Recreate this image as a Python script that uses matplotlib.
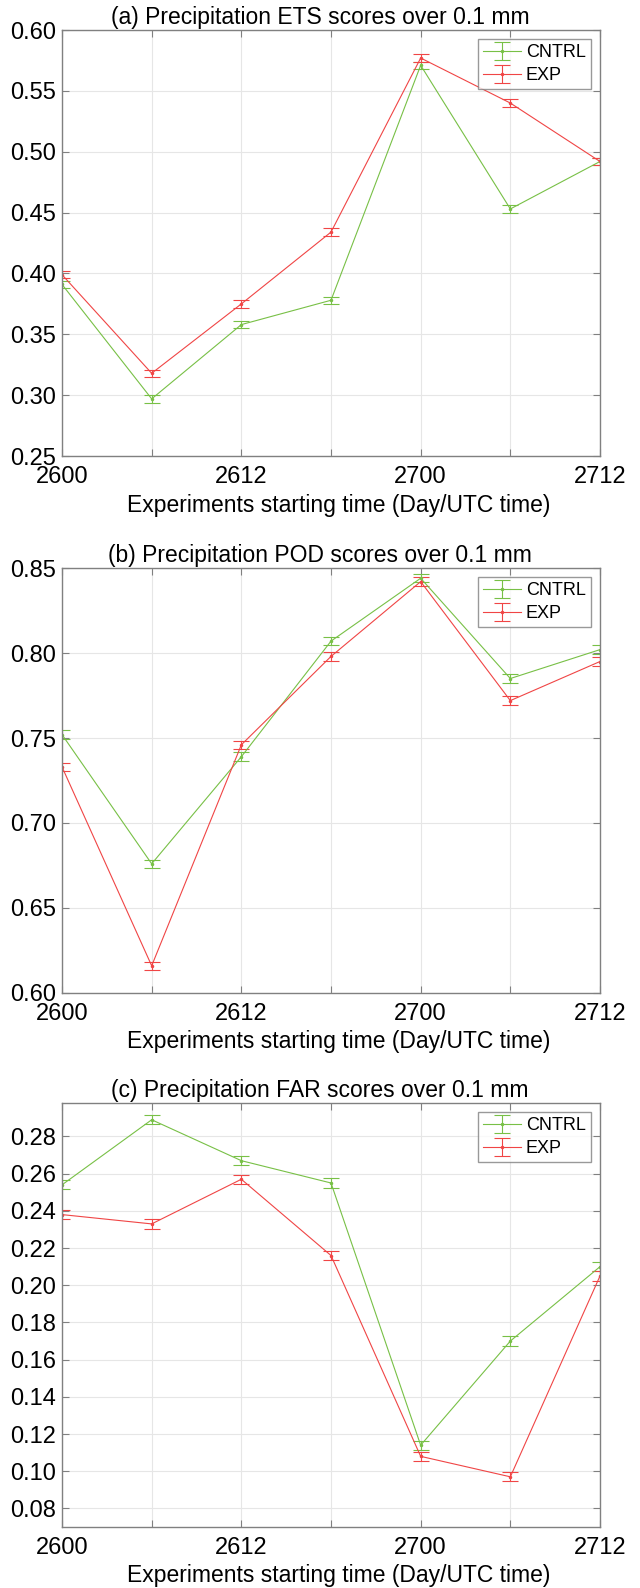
import matplotlib
matplotlib.use('Agg')
import matplotlib.pyplot as plt
import numpy as np

plt.rcParams['font.family'] = ['Liberation Sans', 'DejaVu Sans']

# x positions: experiment starting times
times = ['2600', '2606', '2612', '2618', '2700', '2706', '2712']
tick_labels = ['2600', '', '2612', '', '2700', '', '2712']

# (a) ETS
ets_cntrl = [0.391, 0.297, 0.358, 0.378, 0.571, 0.453, 0.492]
ets_exp = [0.399, 0.318, 0.375, 0.434, 0.577, 0.540, 0.492]
ets_cntrl_err = [0.003, 0.003, 0.003, 0.003, 0.003, 0.003, 0.003]
ets_exp_err = [0.003, 0.003, 0.003, 0.003, 0.003, 0.003, 0.003]

# (b) POD
pod_cntrl = [0.752, 0.676, 0.739, 0.807, 0.844, 0.785, 0.802]
pod_exp = [0.733, 0.616, 0.746, 0.798, 0.842, 0.772, 0.795]
pod_cntrl_err = [0.0025, 0.0025, 0.0025, 0.0025, 0.0025, 0.0025, 0.0025]
pod_exp_err = [0.0025, 0.0025, 0.0025, 0.0025, 0.0025, 0.0025, 0.0025]

# (c) FAR
far_cntrl = [0.254, 0.289, 0.267, 0.255, 0.114, 0.170, 0.210]
far_exp = [0.238, 0.233, 0.257, 0.216, 0.108, 0.097, 0.205]
far_cntrl_err = [0.0025, 0.0025, 0.0025, 0.0025, 0.0025, 0.0025, 0.0025]
far_exp_err = [0.0025, 0.0025, 0.0025, 0.0025, 0.0025, 0.0025, 0.0025]

green = '#78c046'
red = '#f04545'

panels = [
    ('(a) Precipitation ETS scores over 0.1 mm', ets_cntrl, ets_cntrl_err, ets_exp, ets_exp_err,
     (0.25, 0.60), np.arange(0.25, 0.601, 0.05), [0.0969, 0.7128, 0.8406, 0.2683]),
    ('(b) Precipitation POD scores over 0.1 mm', pod_cntrl, pod_cntrl_err, pod_exp, pod_exp_err,
     (0.60, 0.85), np.arange(0.60, 0.851, 0.05), [0.0969, 0.3747, 0.8406, 0.2676]),
    ('(c) Precipitation FAR scores over 0.1 mm', far_cntrl, far_cntrl_err, far_exp, far_exp_err,
     (0.07, 0.298), np.arange(0.08, 0.281, 0.02), [0.0969, 0.0384, 0.8406, 0.2670]),
]

fig = plt.figure(figsize=(6.4, 15.88), dpi=100)
x = np.arange(len(times))

for title, c, ce, e, ee, ylim, yticks, pos in panels:
    ax = fig.add_axes(pos)
    ax.errorbar(x, c, yerr=ce, color=green, lw=0.8, elinewidth=0.8, capsize=6,
                capthick=0.8, marker='.', ms=3, label='CNTRL')
    ax.errorbar(x, e, yerr=ee, color=red, lw=0.8, elinewidth=0.8, capsize=6,
                capthick=0.8, marker='.', ms=3, label='EXP')
    ax.set_xlim(0, 6)
    ax.set_ylim(*ylim)
    ax.set_xticks(x)
    ax.set_xticklabels(tick_labels)
    ax.set_yticks(yticks)
    ax.set_yticklabels(['%.2f' % v for v in yticks])
    ax.grid(True, color='#e6e6e6', lw=0.8)
    ax.tick_params(direction='in', length=5, color='#808080', labelsize=17,
                   top=True, right=True)
    ax.tick_params(axis='x', pad=7)
    ax.tick_params(axis='y', pad=4)
    for s in ax.spines.values():
        s.set_color('#808080')
        s.set_linewidth(1.0)
    ax.set_title(title, fontsize=16.5, pad=4, x=0.48)
    ax.set_xlabel('Experiments starting time (Day/UTC time)', fontsize=16.5)
    ax.xaxis.set_label_coords(0.515, -0.088)
    leg = ax.legend(loc='upper right', frameon=True, fancybox=False,
                    prop={'family': ['Liberation Sans Narrow', 'Liberation Sans'], 'size': 13},
                    borderaxespad=0.5, handlelength=2.1, borderpad=0.3,
                    labelspacing=0.3, handletextpad=0.25)
    leg.get_frame().set_edgecolor('#808080')
    leg.get_frame().set_linewidth(1.0)

fig.savefig('out.png', dpi=100)
